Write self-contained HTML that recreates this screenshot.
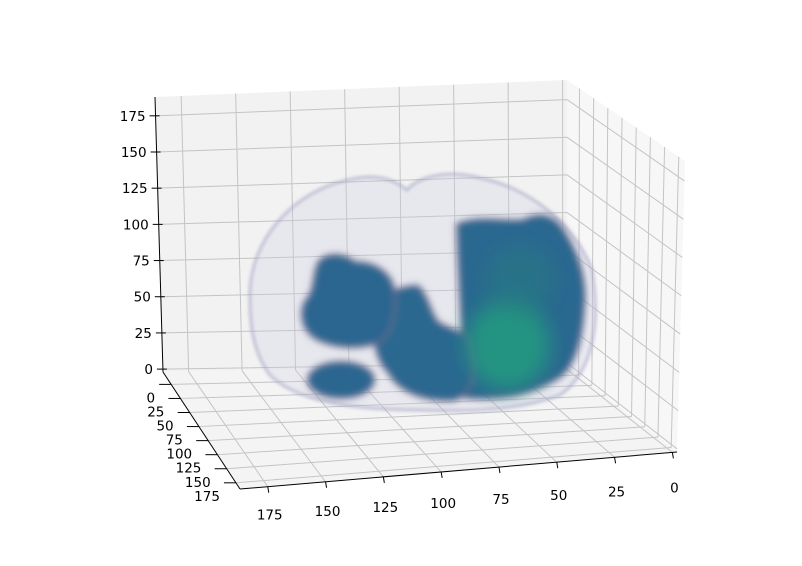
<!DOCTYPE html>
<html><head><meta charset="utf-8"><style>
html,body{margin:0;padding:0;background:#fff}
svg{display:block;font-family:"DejaVu Sans","Liberation Sans",sans-serif}
</style></head><body>
<svg id="chart" width="802" height="566" viewBox="0 0 802 566" xmlns="http://www.w3.org/2000/svg">
<defs>
<filter id="blur4" x="-20%" y="-20%" width="140%" height="140%"><feGaussianBlur stdDeviation="3.5"/></filter>
<filter id="blur8" x="-30%" y="-30%" width="160%" height="160%"><feGaussianBlur stdDeviation="10"/></filter>
<filter id="blur2" x="-20%" y="-20%" width="140%" height="140%"><feGaussianBlur stdDeviation="1.5"/></filter>
</defs>
<g id="panes"></g>
<g id="grid"></g>
<g id="volume">
  <path filter="url(#blur2)" fill="rgba(205,205,225,0.28)" stroke="rgba(160,160,195,0.6)" stroke-width="3"
    d="M250,300 C248,250 280,205 330,185 C360,175 385,172 407,190 C420,175 450,170 480,178 C530,188 575,225 592,270 C600,320 595,370 560,395 C520,410 470,412 420,410 C370,410 300,405 270,375 C255,355 250,330 250,300 Z"/>
  <g filter="url(#blur4)">
    <path fill="#2b6790" stroke="rgba(120,110,140,0.5)" stroke-width="4"
      d="M457,224 C480,215 500,222 523,220 C535,214 548,212 560,225 C578,250 588,280 584,310 C582,345 572,372 555,380 C530,395 500,400 470,398 C455,398 450,385 455,360 L462,330 C460,300 458,260 457,224 Z"/>
    <path fill="#2c6790" stroke="rgba(120,110,140,0.5)" stroke-width="4"
      d="M375,300 C390,290 410,285 418,286 C428,295 430,312 438,322 C450,330 462,330 470,340 C478,365 476,392 455,400 C430,402 400,395 388,372 C375,360 370,330 375,300 Z"/>
    <path fill="#2b6690" stroke="rgba(120,110,140,0.5)" stroke-width="4"
      d="M320,260 C330,252 345,254 355,262 C370,262 385,268 392,282 C398,300 396,330 380,342 C360,350 335,348 318,340 C302,332 298,312 306,300 C316,290 312,270 320,260 Z"/>
    <ellipse fill="#2b6690" stroke="rgba(120,110,140,0.5)" stroke-width="4" cx="341" cy="380" rx="33" ry="18"/>
  </g>
  <ellipse filter="url(#blur8)" fill="#24a07e" opacity="0.8" cx="508" cy="345" rx="42" ry="45"/>
  <ellipse filter="url(#blur8)" fill="#27807f" opacity="0.45" cx="520" cy="280" rx="35" ry="35"/>
</g>
<g id="axes"></g>
</svg>
<script>
const xTicks=[0,25,50,75,100,125,150,175];
const yTicks=[0,25,50,75,100,125,150,175];
const zTicks=[0,25,50,75,100,125,150,175];
const xLim=[-2,187], yLim=[-22,186], zLim=[-2,188];
const C={
 '000':[567,366],'100':[163,372],'010':[677,452],'110':[240,489],
 '001':[567,80],'101':[155,97],'011':[685,161],'111':[233,214]
};
function lerp(a,b,t){return [a[0]+(b[0]-a[0])*t,a[1]+(b[1]-a[1])*t];}
function P(x,y,z){
 const u=(x-xLim[0])/(xLim[1]-xLim[0]),v=(y-yLim[0])/(yLim[1]-yLim[0]),w=(z-zLim[0])/(zLim[1]-zLim[0]);
 const a=lerp(lerp(C['000'],C['100'],u),lerp(C['010'],C['110'],u),v);
 const b=lerp(lerp(C['001'],C['101'],u),lerp(C['011'],C['111'],u),v);
 return lerp(a,b,w);
}
const NS='http://www.w3.org/2000/svg';
function mk(tag,attrs,parent){const e=document.createElementNS(NS,tag);for(const k in attrs)e.setAttribute(k,attrs[k]);parent.appendChild(e);return e;}
const panes=document.getElementById('panes'),grid=document.getElementById('grid'),axes=document.getElementById('axes');
function poly(pts,fill,name){const e=mk('polygon',{points:pts.map(p=>p.join(',')).join(' '),fill:fill},panes);

}
const [x0,x1]=xLim,[y0,y1]=yLim,[z0,z1]=zLim;
poly([P(x0,y0,z0),P(x1,y0,z0),P(x1,y0,z1),P(x0,y0,z1)],'#f2f2f2','back-pane');
poly([P(x0,y0,z0),P(x0,y1,z0),P(x0,y1,z1),P(x0,y0,z1)],'#f7f7f7','right-pane');
poly([P(x0,y0,z0),P(x1,y0,z0),P(x1,y1,z0),P(x0,y1,z0)],'#f4f4f4','floor-pane');
function line(a,b,parent,stroke,w,name){const e=mk('line',{x1:a[0],y1:a[1],x2:b[0],y2:b[1],stroke:stroke,'stroke-width':w},parent);

return e;}
const gc='#c4c4c4';
xTicks.forEach(t=>{line(P(t,y0,z0),P(t,y0,z1),grid,gc,1,'gridline-x');line(P(t,y0,z0),P(t,y1,z0),grid,gc,1,'gridline-x');});
yTicks.forEach(t=>{line(P(x0,t,z0),P(x0,t,z1),grid,gc,1,'gridline-y');line(P(x0,t,z0),P(x1,t,z0),grid,gc,1,'gridline-y');});
zTicks.forEach(t=>{line(P(x0,y0,t),P(x1,y0,t),grid,gc,1,'gridline-z');line(P(x0,y0,t),P(x0,y1,t),grid,gc,1,'gridline-z');});
line(P(x0,y1,z0),P(x1,y1,z0),axes,'#000',1,'x-axis-line');
line(P(x1,y0,z0),P(x1,y1,z0),axes,'#000',1,'y-axis-line');
line(P(x1,y0,z0),P(x1,y0,z1),axes,'#000',1,'z-axis-line');
function txt(p,s,anchor,name){const e=mk('text',{x:p[0],y:p[1],'font-size':13.5,'text-anchor':anchor,fill:'#000','dominant-baseline':'middle'},axes);e.textContent=s;

}
xTicks.forEach(t=>{const a=P(t,y1,z0);line(a,[a[0]+1,a[1]+6],axes,'#000',1,'x-tick');txt([a[0]+2,a[1]+29+(175-t)*0.04],String(t),'middle','x-tick-label');});
yTicks.forEach(t=>{const a=P(x1,t,z0);line(a,[a[0]-12,a[1]],axes,'#000',1,'y-tick');txt([a[0]-16,a[1]+14],String(t),'end','y-tick-label');});
zTicks.forEach(t=>{const a=P(x1,y0,t);line([a[0]-6,a[1]],[a[0]+4,a[1]],axes,'#000',1,'z-tick');txt([a[0]-10,a[1]+1],String(t),'end','z-tick-label');});
</script>
</body></html>
